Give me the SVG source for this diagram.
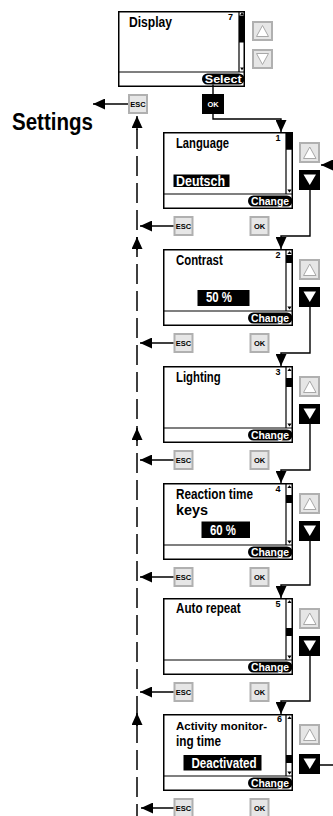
<svg xmlns="http://www.w3.org/2000/svg" width="333" height="816" viewBox="0 0 333 816">
<defs>
<style>
text{font-family:"Liberation Sans Narrow","Liberation Sans",Arial,sans-serif;font-weight:bold;fill:#000}
.t{font-size:14px}
.t.s{font-size:11.5px}
.num{font-size:9px;text-anchor:end}
.w{fill:#fff}
.pt{font-size:10.5px;fill:#fff;text-anchor:middle}
.box{fill:#fff;stroke:#000;stroke-width:1.5}
.ln{stroke:#000;stroke-width:1.2;fill:none}
.gb{fill:#e6e6e6;stroke:#b0b0b0;stroke-width:2}
.gt{fill:#fff;stroke:#a8a8a8;stroke-width:1}
.kt{font-size:7.5px;text-anchor:middle}
.c{fill:none;stroke:#000;stroke-width:1.4}
.d{fill:none;stroke:#000;stroke-width:1.5;stroke-dasharray:20 7}
</style>
<marker id="ah" viewBox="0 0 12 11" refX="12" refY="5.5" markerWidth="12" markerHeight="11" markerUnits="userSpaceOnUse" orient="auto">
<path d="M0,0 L12,5.5 L0,11 z" fill="#000"/>
</marker>
</defs>

<g id="settings-title">
<text x="12" y="130" font-size="23" textLength="81" lengthAdjust="spacingAndGlyphs">Settings</text>
</g>

<g id="display">
<rect class="box" x="118.75" y="11.75" width="125.5" height="74.5"/>
<path class="ln" d="M119,72H244.25M239,11.75V72"/>
<rect x="239" y="15.5" width="5.25" height="27"/>
<path d="M240.2,15H243.8L242,12.3z"/>
<path d="M240.2,67.5H243.8L242,70.5z"/>
<text class="t" x="129" y="26.5" textLength="43" lengthAdjust="spacingAndGlyphs">Display</text>
<text class="num" x="233" y="20">7</text>
<rect x="202" y="73.5" width="42.5" height="11" rx="5.5"/>
<text class="pt" x="223.25" y="82.7" textLength="37" lengthAdjust="spacingAndGlyphs">Select</text>
<rect class="gb" x="253" y="22" width="19" height="18"/>
<polygon class="gt" points="256.5,36.5 268.5,36.5 262.5,25.5"/>
<rect class="gb" x="253" y="50" width="19" height="18"/>
<polygon class="gt" points="256.5,53.5 268.5,53.5 262.5,64.5"/>
<rect class="gb" x="129" y="95" width="18" height="18"/>
<text class="kt" x="138" y="106.8">ESC</text>
<rect x="202" y="94" width="22" height="20"/>
<text class="kt w" x="213" y="106.8">OK</text>
</g>

<g id="language" transform="translate(0,132)">
<rect class="box" x="163.75" y="0.75" width="128.5" height="75.5"/>
<path class="ln" d="M164,62H292.5M286,0.75V62"/>
<rect x="286" y="0.75" width="6.5" height="17"/>
<path d="M287.3,57.5H291.7L289.5,60.5z"/>
<text class="num" x="280.5" y="9">1</text>
<text class="t" x="176" y="15.5" textLength="53" lengthAdjust="spacingAndGlyphs">Language</text>
<rect x="173.5" y="42.5" width="56" height="12.5"/>
<text class="t w" x="176" y="53.5" textLength="49" lengthAdjust="spacingAndGlyphs">Deutsch</text>
<rect x="248" y="63.5" width="44.5" height="11" rx="5.5"/>
<text class="pt" x="270" y="72.8" textLength="38" lengthAdjust="spacingAndGlyphs">Change</text>
<rect class="gb" x="300" y="11" width="19" height="19"/>
<polygon class="gt" points="303.5,26.5 316,26.5 309.75,15"/>
<rect x="299" y="38" width="21" height="20"/>
<polygon fill="#fff" points="303.5,42.5 316,42.5 309.75,53"/>
<rect class="gb" x="174.5" y="85" width="18" height="18"/>
<text class="kt" x="183.5" y="96.8">ESC</text>
<rect class="gb" x="250.5" y="85" width="18" height="18"/>
<text class="kt" x="259.5" y="96.8">OK</text>
</g>

<g id="contrast" transform="translate(0,249)">
<rect class="box" x="163.75" y="0.75" width="128.5" height="75.5"/>
<path class="ln" d="M164,62H292.5M286,0.75V62"/>
<rect x="286" y="6" width="6.5" height="8"/>
<path d="M287.3,5H291.7L289.5,2.2z"/>
<path d="M287.3,57.5H291.7L289.5,60.5z"/>
<text class="num" x="280.5" y="9">2</text>
<text class="t" x="176" y="16" textLength="46.7" lengthAdjust="spacingAndGlyphs">Contrast</text>
<rect x="197.5" y="41" width="52" height="16"/>
<text class="t w" x="206" y="53" textLength="26" lengthAdjust="spacingAndGlyphs">50 %</text>
<rect x="248" y="63.5" width="44.5" height="11" rx="5.5"/>
<text class="pt" x="270" y="72.8" textLength="38" lengthAdjust="spacingAndGlyphs">Change</text>
<rect class="gb" x="300" y="11" width="19" height="19"/>
<polygon class="gt" points="303.5,26.5 316,26.5 309.75,15"/>
<rect x="299" y="38" width="21" height="20"/>
<polygon fill="#fff" points="303.5,42.5 316,42.5 309.75,53"/>
<rect class="gb" x="174.5" y="85" width="18" height="18"/>
<text class="kt" x="183.5" y="96.8">ESC</text>
<rect class="gb" x="250.5" y="85" width="18" height="18"/>
<text class="kt" x="259.5" y="96.8">OK</text>
</g>

<g id="lighting" transform="translate(0,366)">
<rect class="box" x="163.75" y="0.75" width="128.5" height="75.5"/>
<path class="ln" d="M164,62H292.5M286,0.75V62"/>
<rect x="286" y="12" width="6.5" height="9"/>
<path d="M287.3,5H291.7L289.5,2.2z"/>
<path d="M287.3,57.5H291.7L289.5,60.5z"/>
<text class="num" x="280.5" y="9">3</text>
<text class="t" x="176" y="16" textLength="44.7" lengthAdjust="spacingAndGlyphs">Lighting</text>
<rect x="248" y="63.5" width="44.5" height="11" rx="5.5"/>
<text class="pt" x="270" y="72.8" textLength="38" lengthAdjust="spacingAndGlyphs">Change</text>
<rect class="gb" x="300" y="11" width="19" height="19"/>
<polygon class="gt" points="303.5,26.5 316,26.5 309.75,15"/>
<rect x="299" y="38" width="21" height="20"/>
<polygon fill="#fff" points="303.5,42.5 316,42.5 309.75,53"/>
<rect class="gb" x="174.5" y="85" width="18" height="18"/>
<text class="kt" x="183.5" y="96.8">ESC</text>
<rect class="gb" x="250.5" y="85" width="18" height="18"/>
<text class="kt" x="259.5" y="96.8">OK</text>
</g>

<g id="reaction-time-keys" transform="translate(0,483)">
<rect class="box" x="163.75" y="0.75" width="128.5" height="75.5"/>
<path class="ln" d="M164,62H292.5M286,0.75V62"/>
<rect x="286" y="12" width="6.5" height="8"/>
<path d="M287.3,5H291.7L289.5,2.2z"/>
<path d="M287.3,57.5H291.7L289.5,60.5z"/>
<text class="num" x="280.5" y="9">4</text>
<text class="t" x="176" y="15.5" textLength="77" lengthAdjust="spacingAndGlyphs">Reaction time</text>
<text class="t" x="176" y="31.5" textLength="32" lengthAdjust="spacingAndGlyphs">keys</text>
<rect x="201.5" y="38.5" width="48.5" height="16.5"/>
<text class="t w" x="210" y="52" textLength="26" lengthAdjust="spacingAndGlyphs">60 %</text>
<rect x="248" y="63.5" width="44.5" height="11" rx="5.5"/>
<text class="pt" x="270" y="72.8" textLength="38" lengthAdjust="spacingAndGlyphs">Change</text>
<rect class="gb" x="300" y="11" width="19" height="19"/>
<polygon class="gt" points="303.5,26.5 316,26.5 309.75,15"/>
<rect x="299" y="38" width="21" height="20"/>
<polygon fill="#fff" points="303.5,42.5 316,42.5 309.75,53"/>
<rect class="gb" x="174.5" y="85" width="18" height="18"/>
<text class="kt" x="183.5" y="96.8">ESC</text>
<rect class="gb" x="250.5" y="85" width="18" height="18"/>
<text class="kt" x="259.5" y="96.8">OK</text>
</g>

<g id="auto-repeat" transform="translate(0,598)">
<rect class="box" x="163.75" y="0.75" width="128.5" height="75.5"/>
<path class="ln" d="M164,62H292.5M286,0.75V62"/>
<rect x="286" y="30" width="6.5" height="8"/>
<path d="M287.3,5H291.7L289.5,2.2z"/>
<path d="M287.3,57.5H291.7L289.5,60.5z"/>
<text class="num" x="280.5" y="9">5</text>
<text class="t" x="176" y="15" textLength="64.7" lengthAdjust="spacingAndGlyphs">Auto repeat</text>
<rect x="248" y="63.5" width="44.5" height="11" rx="5.5"/>
<text class="pt" x="270" y="72.8" textLength="38" lengthAdjust="spacingAndGlyphs">Change</text>
<rect class="gb" x="300" y="11" width="19" height="19"/>
<polygon class="gt" points="303.5,26.5 316,26.5 309.75,15"/>
<rect x="299" y="38" width="21" height="20"/>
<polygon fill="#fff" points="303.5,42.5 316,42.5 309.75,53"/>
<rect class="gb" x="174.5" y="85" width="18" height="18"/>
<text class="kt" x="183.5" y="96.8">ESC</text>
<rect class="gb" x="250.5" y="85" width="18" height="18"/>
<text class="kt" x="259.5" y="96.8">OK</text>
</g>

<g id="activity-monitoring-time" transform="translate(0,714)">
<rect class="box" x="163.75" y="0.75" width="128.5" height="75.5"/>
<path class="ln" d="M164,62H292.5M286,0.75V62"/>
<rect x="286" y="41" width="6.5" height="8"/>
<path d="M287.3,5H291.7L289.5,2.2z"/>
<path d="M287.3,57.5H291.7L289.5,60.5z"/>
<text class="num" x="282" y="8">6</text>
<text class="t s" x="176" y="16" textLength="91" lengthAdjust="spacingAndGlyphs">Activity monitor-</text>
<text class="t" x="176" y="32" textLength="45" lengthAdjust="spacingAndGlyphs">ing time</text>
<rect x="183.5" y="41" width="78" height="15.5"/>
<text class="t w" x="191.5" y="54" textLength="65" lengthAdjust="spacingAndGlyphs">Deactivated</text>
<rect x="248" y="63.5" width="44.5" height="11" rx="5.5"/>
<text class="pt" x="270" y="72.8" textLength="38" lengthAdjust="spacingAndGlyphs">Change</text>
<rect class="gb" x="300" y="11" width="19" height="19"/>
<polygon class="gt" points="303.5,26.5 316,26.5 309.75,15"/>
<rect x="299" y="40" width="21" height="20"/>
<polygon fill="#fff" points="303.5,44.5 316,44.5 309.75,55"/>
<rect class="gb" x="174.5" y="85" width="18" height="18"/>
<text class="kt" x="183.5" y="96.8">ESC</text>
<rect class="gb" x="250.5" y="85" width="18" height="18"/>
<text class="kt" x="259.5" y="96.8">OK</text>
</g>

<g id="connectors">
<path class="d" d="M137,129V816"/>
<path class="c" d="M213,84.5V94"/>
<path class="c" d="M213,114V119H281V132" marker-end="url(#ah)"/>
<path class="c" d="M310,190V236H281V249" marker-end="url(#ah)"/>
<path class="c" d="M310,307V353H281V366" marker-end="url(#ah)"/>
<path class="c" d="M310,424V470H281V483" marker-end="url(#ah)"/>
<path class="c" d="M310,541V585H281V598" marker-end="url(#ah)"/>
<path class="c" d="M310,656V701H281V714" marker-end="url(#ah)"/>
<path class="c" d="M320,765H334V165H321" marker-end="url(#ah)"/>
<path class="c" d="M128,104H93" marker-end="url(#ah)"/>
<path class="c" d="M173.5,226H140" marker-end="url(#ah)"/>
<path class="c" d="M173.5,343H140" marker-end="url(#ah)"/>
<path class="c" d="M173.5,460H140" marker-end="url(#ah)"/>
<path class="c" d="M173.5,577H140" marker-end="url(#ah)"/>
<path class="c" d="M173.5,692H140" marker-end="url(#ah)"/>
<path class="c" d="M173.5,808H141" marker-end="url(#ah)"/>
<path class="c" d="M137,130V116" marker-end="url(#ah)"/>
<path class="c" d="M137,250V237" marker-end="url(#ah)"/>
<path class="c" d="M137,441V428" marker-end="url(#ah)"/>
<path class="c" d="M137,726V713" marker-end="url(#ah)"/>
</g>
</svg>
